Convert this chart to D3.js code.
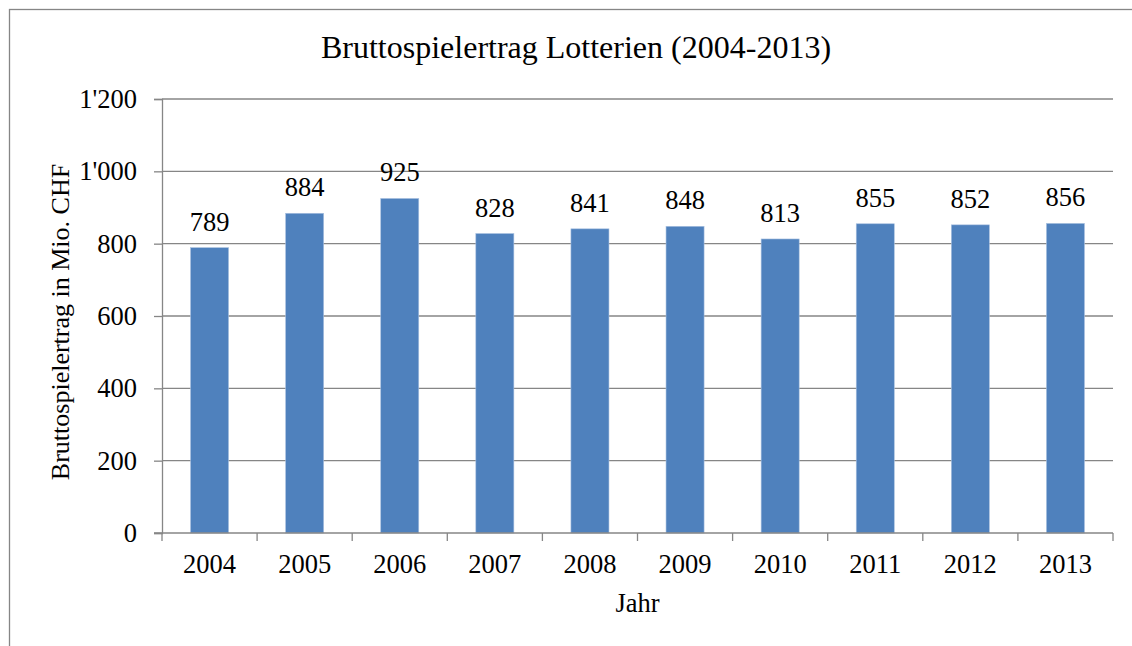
<!DOCTYPE html>
<html lang="de">
<head>
<meta charset="UTF-8" />
<title>Bruttospielertrag Lotterien (2004-2013)</title>
<script src="https://d3js.org/d3.v7.min.js"></script>
<style>
  body { margin: 0; background: #ffffff; }
  svg { display: block; font-family: "Liberation Serif", "Times New Roman", serif; }
  .grid line { stroke: #868686; stroke-width: 1.3; }
  .axis path, .axis line { stroke: #868686; stroke-width: 1.3; }
  .axis text { font-size: 26.5px; fill: #000; font-family: "Liberation Serif", "Times New Roman", serif; }
</style>
</head>
<body>
<svg id="chart" width="1132" height="646"></svg>
<script>
const years = ["2004", "2005", "2006", "2007", "2008", "2009", "2010", "2011", "2012", "2013"];
const values = [789, 884, 925, 828, 841, 848, 813, 855, 852, 856];
const yTicks = [0, 200, 400, 600, 800, 1000, 1200];

const W = 1132, H = 646;
const margin = { top: 99, right: 19, bottom: 113, left: 162 };
const innerW = W - margin.left - margin.right;
const innerH = H - margin.top - margin.bottom;

const svg = d3.select("#chart");

// outer frame (right and bottom edges fall outside the picture)
svg.append("rect")
  .attr("x", 9.5).attr("y", 9.5)
  .attr("width", W + 10).attr("height", H + 10)
  .attr("fill", "none").attr("stroke", "#868686").attr("stroke-width", 1.3);

const g = svg.append("g").attr("transform", `translate(${margin.left},${margin.top})`);

const x = d3.scaleBand().domain(years).range([0, innerW]).paddingInner(0.6).paddingOuter(0.3);
const xTick = d3.scaleLinear().domain([0, years.length]).range([0, innerW]);
const y = d3.scaleLinear().domain([0, 1200]).range([innerH, 0]);

const swiss = d3.formatLocale({ decimal: ".", thousands: "'", grouping: [3], currency: ["", ""] });
const fmt = swiss.format(",");

// gridlines
g.append("g").attr("class", "grid")
  .selectAll("line")
  .data(yTicks.filter(d => d > 0))
  .join("line")
  .attr("x1", 0).attr("x2", innerW)
  .attr("y1", d => y(d)).attr("y2", d => y(d));

// bars
g.append("g")
  .selectAll("rect")
  .data(values)
  .join("rect")
  .attr("x", (d, i) => x(years[i]))
  .attr("width", x.bandwidth())
  .attr("y", d => y(d))
  .attr("height", d => innerH - y(d))
  .attr("fill", "#4F81BD")
  .attr("stroke", "#a9c1e0")
  .attr("stroke-width", 0.6);

// value labels
g.append("g")
  .selectAll("text")
  .data(values)
  .join("text")
  .attr("x", (d, i) => x(years[i]) + x.bandwidth() / 2)
  .attr("y", d => y(d) - 17)
  .attr("text-anchor", "middle")
  .attr("font-size", 26.5)
  .text(d => d);

// y axis
const yAxis = g.append("g").attr("class", "axis")
  .call(d3.axisLeft(y).tickValues(yTicks).tickFormat(fmt).tickSize(8).tickPadding(17));
yAxis.selectAll("text").attr("dy", "0.32em");

// x axis: ticks at category boundaries
const xAxis = g.append("g").attr("class", "axis")
  .attr("transform", `translate(0,${innerH})`);
xAxis.append("line").attr("x1", -8).attr("x2", innerW).attr("y1", 0).attr("y2", 0);
xAxis.selectAll(".tk")
  .data(d3.range(years.length + 1))
  .join("line")
  .attr("class", "tk")
  .attr("x1", d => xTick(d)).attr("x2", d => xTick(d))
  .attr("y1", 0).attr("y2", 8);
xAxis.selectAll("text")
  .data(years)
  .join("text")
  .attr("x", d => x(d) + x.bandwidth() / 2)
  .attr("y", 40)
  .attr("text-anchor", "middle")
  .text(d => d);

// titles
svg.append("text")
  .attr("x", 576).attr("y", 58)
  .attr("text-anchor", "middle")
  .attr("font-size", 32)
  .text("Bruttospielertrag Lotterien (2004-2013)");

svg.append("text")
  .attr("x", margin.left + innerW / 2).attr("y", 612)
  .attr("text-anchor", "middle")
  .attr("font-size", 26.5)
  .text("Jahr");

svg.append("text")
  .attr("transform", `translate(69,322) rotate(-90)`)
  .attr("text-anchor", "middle")
  .attr("font-size", 26)
  .text("Bruttospielertrag in Mio. CHF");
</script>
</body>
</html>
